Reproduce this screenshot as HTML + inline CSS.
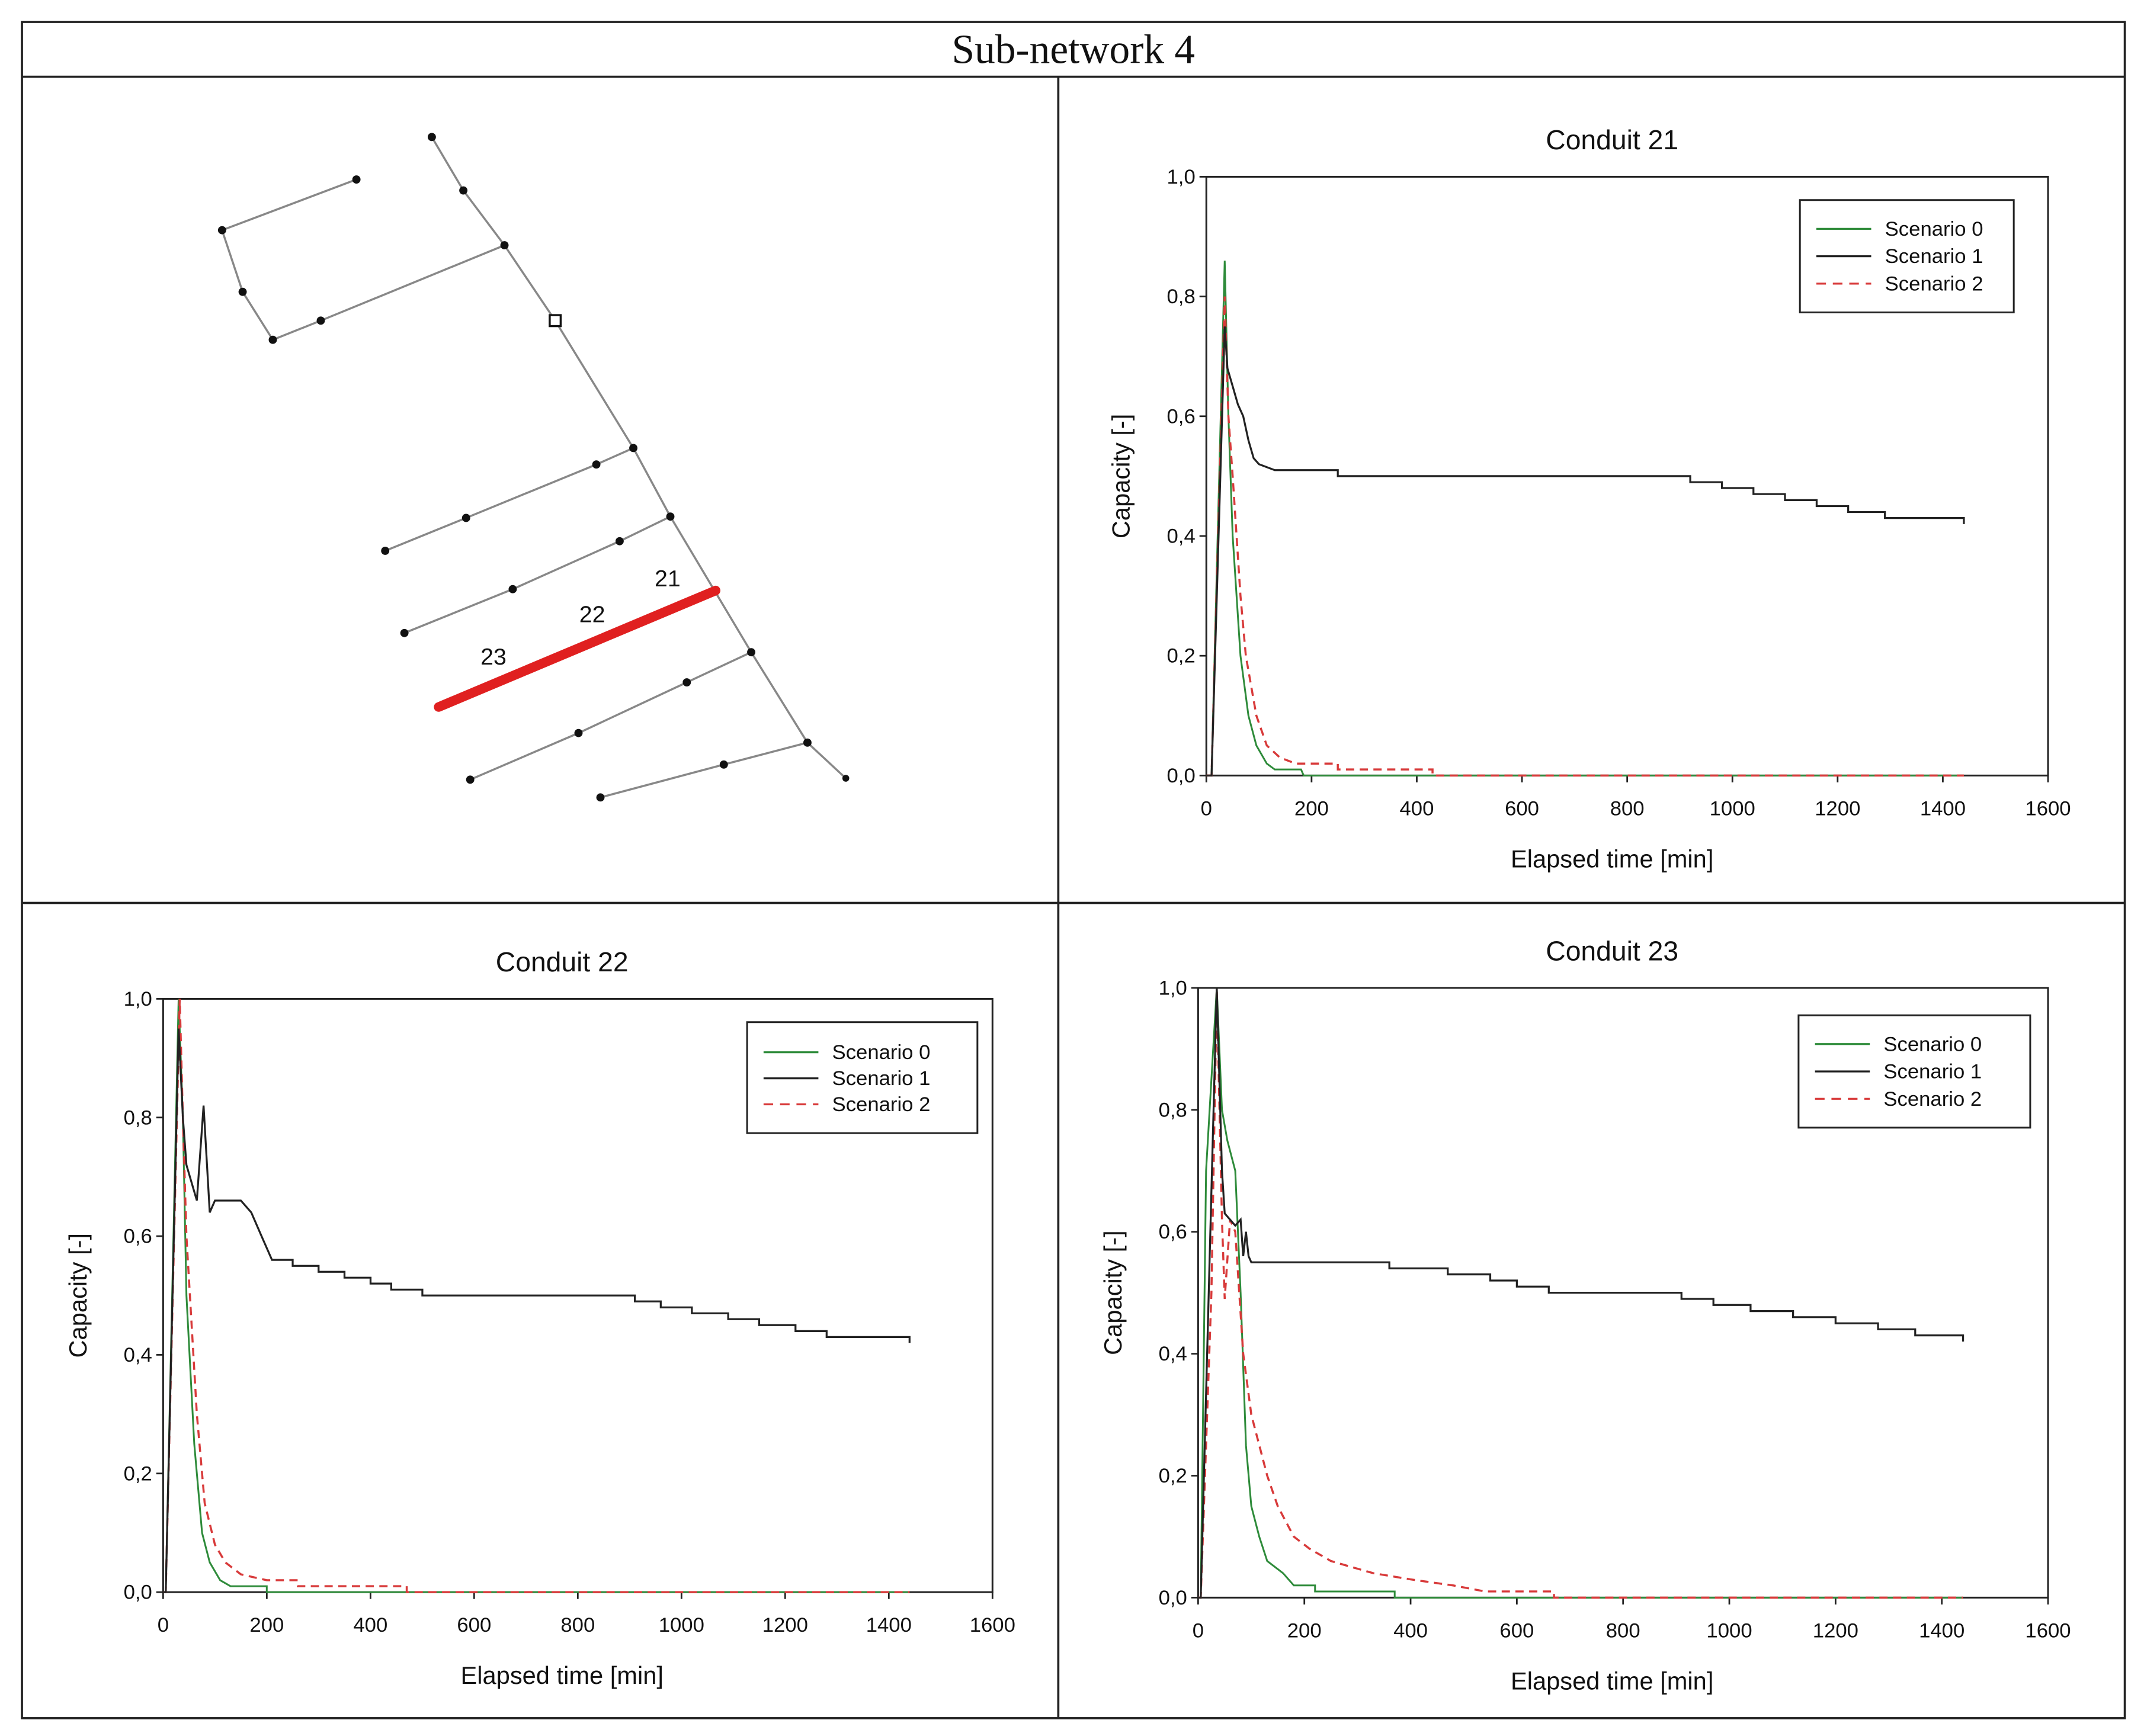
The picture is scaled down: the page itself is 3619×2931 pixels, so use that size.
<!DOCTYPE html>
<html><head><meta charset="utf-8"><style>
html,body{margin:0;padding:0;background:#fff;}
svg{display:block;}
text{font-family:"Liberation Sans",sans-serif;fill:#111;}
</style></head><body>
<svg id="s" width="3619" height="2931" viewBox="0 0 1564 1267" preserveAspectRatio="none" xmlns="http://www.w3.org/2000/svg">
<rect x="0" y="0" width="1564" height="1267" fill="#fff"/>
<g stroke="#222" stroke-width="1.6" fill="none">
<rect x="16" y="16" width="1534" height="1238"/>
<line x1="16" y1="56" x2="1550" y2="56"/>
<line x1="772" y1="56" x2="772" y2="1254"/>
<line x1="16" y1="659" x2="1550" y2="659"/>
</g>
<text x="783" y="46" text-anchor="middle" style="font-family:'Liberation Serif',serif;font-size:30px">Sub-network 4</text>
<g stroke="#888" stroke-width="1.5" fill="none">
<polyline points="315,100 338,139 368,179 405,234 462,327 489,377 548,476 589,542 617,568"/>
<polyline points="260,131 162,168 177,213 199,248 234,234 368,179"/>
<polyline points="462,327 435,339 340,378 281,402"/>
<polyline points="489,377 452,395 374,430 295,462"/>
<polyline points="548,476 501,498 422,535 343,569"/>
<polyline points="589,542 528,558 438,582"/>
</g>
<line x1="522" y1="431" x2="320" y2="516" stroke="#e02020" stroke-width="7" stroke-linecap="round"/>
<g fill="#111">
<circle cx="315" cy="100" r="3"/><circle cx="338" cy="139" r="3"/><circle cx="368" cy="179" r="3"/>
<circle cx="462" cy="327" r="3"/><circle cx="489" cy="377" r="3"/><circle cx="548" cy="476" r="3"/>
<circle cx="589" cy="542" r="3"/><circle cx="617" cy="568" r="2.5"/><circle cx="260" cy="131" r="3"/>
<circle cx="162" cy="168" r="3"/><circle cx="177" cy="213" r="3"/><circle cx="199" cy="248" r="3"/>
<circle cx="234" cy="234" r="3"/><circle cx="435" cy="339" r="3"/><circle cx="340" cy="378" r="3"/>
<circle cx="281" cy="402" r="3"/><circle cx="452" cy="395" r="3"/><circle cx="374" cy="430" r="3"/>
<circle cx="295" cy="462" r="3"/><circle cx="501" cy="498" r="3"/><circle cx="422" cy="535" r="3"/>
<circle cx="343" cy="569" r="3"/><circle cx="528" cy="558" r="3"/><circle cx="438" cy="582" r="3"/>
</g>
<rect x="401" y="230" width="8" height="8" fill="#fff" stroke="#111" stroke-width="1.5"/>
<text x="487" y="428" text-anchor="middle" font-size="17">21</text>
<text x="432" y="454" text-anchor="middle" font-size="17">22</text>
<text x="360" y="485" text-anchor="middle" font-size="17">23</text>
<g id="charts"></g>
</svg>
<script>
const NS="http://www.w3.org/2000/svg";
const root=document.getElementById('charts');
function el(t,a,txt){const e=document.createElementNS(NS,t);for(const k in a)e.setAttribute(k,a[k]);if(txt!==undefined)e.textContent=txt;root.appendChild(e);return e;}
function chart(c){
 const X=v=>c.x0+(c.x1-c.x0)*v/1600, Y=v=>c.y0-(c.y0-c.y1)*v;
 el('text',{x:c.tx,y:c.y1-20,'text-anchor':'middle','font-size':20},c.title);
 el('rect',{x:c.x0,y:c.y1,width:c.x1-c.x0,height:c.y0-c.y1,fill:'none',stroke:'#222','stroke-width':1.3});
 for(let i=0;i<=5;i++){const v=i*0.2,y=Y(v);
  el('line',{x1:c.x0-5,y1:y,x2:c.x0,y2:y,stroke:'#222','stroke-width':1.2});
  el('text',{x:c.x0-8,y:y+5,'text-anchor':'end','font-size':15},v.toFixed(1).replace('.',','));}
 for(let i=0;i<=8;i++){const v=i*200,x=X(v);
  el('line',{x1:x,y1:c.y0,x2:x,y2:c.y0+5,stroke:'#222','stroke-width':1.2});
  el('text',{x:x,y:c.y0+29,'text-anchor':'middle','font-size':15},v);}
 el('text',{x:c.tx,y:c.y0+67,'text-anchor':'middle','font-size':18},'Elapsed time [min]');
 el('text',{x:0,y:0,'text-anchor':'middle','font-size':18,transform:`translate(${c.x0-56},${(c.y0+c.y1)/2}) rotate(-90)`},'Capacity [-]');
 const ser=[[c.g,'#2e8b3a',1.3,null],[c.r,'#d83a3a',1.5,'6,4'],[c.k,'#222',1.4,null]];
 for(const [d,col,w,da] of ser){
  const pts=d.map(p=>X(p[0]).toFixed(1)+','+Y(Math.min(p[1],1)).toFixed(1)).join(' ');
  const a={points:pts,fill:'none',stroke:col,'stroke-width':w};if(da)a['stroke-dasharray']=da;el('polyline',a);}
 const L=c.leg;
 el('rect',{x:L[0],y:L[1],width:L[2],height:L[3],fill:'#fff',stroke:'#222','stroke-width':1.3});
 const names=['Scenario 0','Scenario 1','Scenario 2'],cols=['#2e8b3a','#222','#d83a3a'];
 for(let i=0;i<3;i++){const y=L[4]+i*L[5];
  const a={x1:L[0]+12,y1:y,x2:L[0]+52,y2:y,stroke:cols[i],'stroke-width':1.4};if(i==2)a['stroke-dasharray']='7,5';el('line',a);
  el('text',{x:L[0]+62,y:y+5,'font-size':15},names[i]);}
}
function steps(arr){const o=[];for(let i=0;i<arr.length;i++){const [x,y]=arr[i];if(i>0)o.push([x,arr[i-1][1]]);o.push([x,y]);}return o;}
chart({title:'Conduit 21',tx:1176,x0:880,x1:1494,y0:566,y1:129,leg:[1313,146,156,82,167,20],
 k:[[0,0],[10,0],[35,0.75],[40,0.68],[50,0.65],[60,0.62],[70,0.6],[80,0.56],[90,0.53],[100,0.52],[130,0.51]].concat(steps([[130,0.51],[250,0.5],[920,0.49],[980,0.48],[1040,0.47],[1100,0.46],[1160,0.45],[1220,0.44],[1290,0.43],[1440,0.42]])),
 g:[[0,0],[10,0],[35,0.86],[42,0.6],[50,0.4],[65,0.2],[80,0.1],[95,0.05],[115,0.02],[130,0.01],[180,0.01],[185,0],[1440,0]],
 r:[[0,0],[10,0],[35,0.8],[42,0.6],[50,0.5],[65,0.3],[75,0.2],[95,0.1],[115,0.05],[140,0.03],[170,0.02],[250,0.02],[250,0.01],[430,0.01],[430,0],[1440,0]]});
chart({title:'Conduit 22',tx:410,x0:119,x1:724,y0:1162,y1:729,leg:[545,746,168,81,768,19],
 k:[[0,0],[5,0],[30,0.95],[38,0.8],[45,0.72],[65,0.66],[78,0.82],[90,0.64],[100,0.66],[150,0.66],[170,0.64],[190,0.6],[210,0.56]].concat(steps([[210,0.56],[250,0.55],[300,0.54],[350,0.53],[400,0.52],[440,0.51],[500,0.5],[910,0.49],[960,0.48],[1020,0.47],[1090,0.46],[1150,0.45],[1220,0.44],[1280,0.43],[1440,0.42]])),
 g:[[0,0],[5,0],[30,1],[38,0.8],[45,0.5],[60,0.25],[75,0.1],[90,0.05],[110,0.02],[130,0.01],[200,0.01],[200,0],[1440,0]],
 r:[[0,0],[5,0],[32,1],[38,0.8],[45,0.6],[65,0.3],[80,0.15],[100,0.08],[120,0.05],[150,0.03],[200,0.02],[260,0.02],[260,0.01],[470,0.01],[470,0],[1440,0]]});
chart({title:'Conduit 23',tx:1176,x0:874,x1:1494,y0:1166,y1:721,leg:[1312,741,169,82,762,20],
 k:[[0,0],[5,0],[35,1],[45,0.7],[50,0.63],[70,0.61],[80,0.62],[85,0.56],[90,0.6],[95,0.56],[100,0.55]].concat(steps([[100,0.55],[360,0.54],[470,0.53],[550,0.52],[600,0.51],[660,0.5],[910,0.49],[970,0.48],[1040,0.47],[1120,0.46],[1200,0.45],[1280,0.44],[1350,0.43],[1440,0.42]])),
 g:[[0,0],[5,0],[15,0.7],[35,1],[45,0.8],[55,0.75],[70,0.7],[80,0.5],[90,0.25],[100,0.15],[115,0.1],[130,0.06],[160,0.04],[180,0.02],[220,0.02],[220,0.01],[370,0.01],[370,0],[1440,0]],
 r:[[0,0],[5,0],[25,0.5],[35,1],[45,0.62],[50,0.49],[60,0.62],[70,0.6],[85,0.4],[100,0.3],[130,0.2],[150,0.15],[180,0.1],[210,0.08],[250,0.06],[290,0.05],[330,0.04],[400,0.03],[480,0.02],[540,0.01],[670,0.01],[670,0],[1440,0]]});
</script>
</body></html>
